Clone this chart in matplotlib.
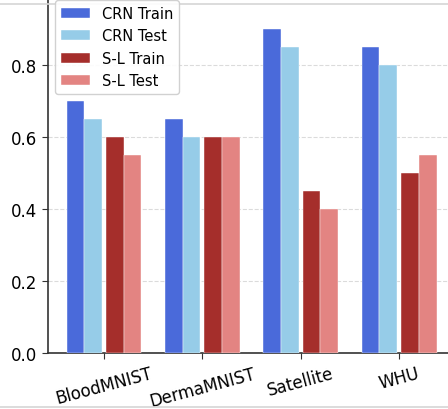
import numpy as np
import matplotlib
matplotlib.use('Agg')
import matplotlib.pyplot as plt
from matplotlib.lines import Line2D

datasets = ['BloodMNIST', 'DermaMNIST', 'Satellite', 'WHU']
crn_train = [0.70, 0.65, 0.90, 0.85]
crn_test = [0.65, 0.60, 0.85, 0.80]
sl_train = [0.60, 0.60, 0.45, 0.50]
sl_test = [0.55, 0.60, 0.40, 0.55]

x = np.arange(len(datasets))
w = 0.18

fig = plt.figure(figsize=(4.48, 4.10), dpi=100)
# axes runs past the right and top edges, like the cropped original
ax = fig.add_axes([48 / 448, 56 / 410, 407 / 448, 360 / 410])

ax.bar(x - 0.2 - w / 2, crn_train, w, color='#4a6ada', edgecolor='white', linewidth=0.3, label='CRN Train', zorder=3)
ax.bar(x - 0.2 + w / 2, crn_test, w, color='#96cce8', edgecolor='white', linewidth=0.3, label='CRN Test', zorder=3)
ax.bar(x + 0.2 - w / 2, sl_train, w, color='#a52e2b', edgecolor='white', linewidth=0.3, label='S-L Train', zorder=3)
ax.bar(x + 0.2 + w / 2, sl_test, w, color='#e38482', edgecolor='white', linewidth=0.3, label='S-L Test', zorder=3)

ax.set_ylim(0, 1.0)
ax.set_yticks([0.0, 0.2, 0.4, 0.6, 0.8])
ax.set_xticks(x)
ax.set_xticklabels(datasets, rotation=15, fontsize=12)
ax.tick_params(axis='y', labelsize=12)
ax.tick_params(length=4.5, color='#333333')
ax.yaxis.grid(True, linestyle='--', color='#cccccc', alpha=0.7, zorder=0)
ax.set_axisbelow(True)
for s in ['top', 'right']:
    ax.spines[s].set_visible(False)
for s in ['left', 'bottom']:
    ax.spines[s].set_color('#333333')
    ax.spines[s].set_linewidth(1.2)

ax.legend(loc='upper left', fontsize=10.5, framealpha=0.9)

# light frame lines from the screenshot border
for ypix in (5, 408):
    ax.add_artist(Line2D([0, 1], [1 - ypix / 410] * 2, transform=fig.transFigure,
                         color='#d6d6d6', lw=1.2, clip_on=False, zorder=4))

fig.savefig('out.png', dpi=100)
